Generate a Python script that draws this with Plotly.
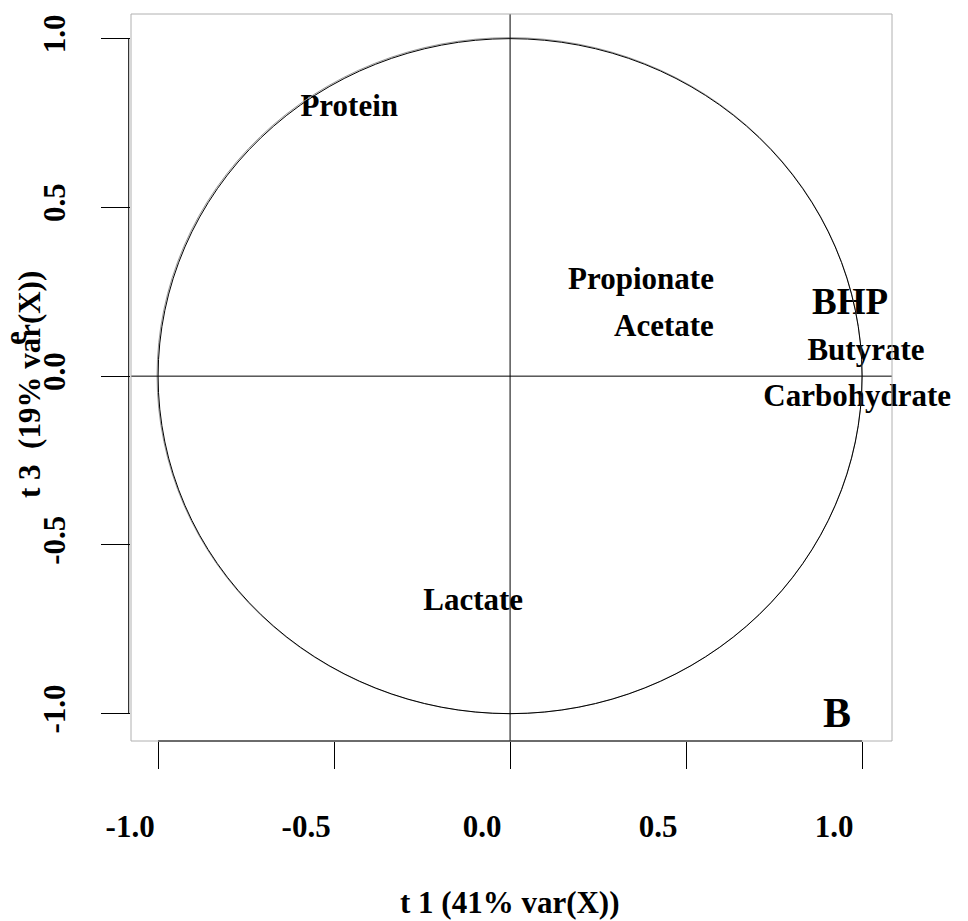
import plotly.graph_objects as go

# ---- data ----
variables = ["Protein", "Propionate", "Acetate", "BHP", "Butyrate", "Carbohydrate", "Lactate"]
t1_loadings = [-0.457, 0.372, 0.437, 0.966, 1.011, 0.986, -0.105]
t3_loadings = [0.794, 0.281, 0.142, 0.213, 0.071, -0.065, -0.67]
label_sizes = [31, 31, 31, 37, 31, 31, 31]

tick_vals = [-1.0, -0.5, 0.0, 0.5, 1.0]
tick_text = ["-1.0", "-0.5", "0.0", "0.5", "1.0"]

x_title = "t 1 (41% var(X))"
y_title = "t 3  (19% var(X))"
panel_letter = "B"

W, H = 968, 921
L, R, T, B = 131, 76, 14, 180
pw, ph = W - L - R, H - T - B

def px_x(p):
    return (p - L) / pw

def px_y(p):
    return (H - B - p) / ph

FONT = "Liberation Serif"

fig = go.Figure()

fig.add_trace(go.Scatter(
    x=t1_loadings, y=t3_loadings, text=variables, mode="text",
    textposition="middle center", cliponaxis=False,
    textfont=dict(family=FONT, size=label_sizes, color="black", weight="bold"),
    hoverinfo="skip", showlegend=False,
))

shapes = []
# correlation circles (black + slightly offset grey)
shapes.append(dict(type="circle", xref="x", yref="y", x0=-1.003, x1=1.0, y0=-1.0, y1=1.003,
                   line=dict(color="#999999", width=1)))
shapes.append(dict(type="circle", xref="x", yref="y", x0=-1, x1=1, y0=-1, y1=1,
                   line=dict(color="black", width=1)))
# reference lines
shapes.append(dict(type="line", xref="x", yref="paper", x0=0, x1=0, y0=0, y1=1,
                   line=dict(color="black", width=1)))
shapes.append(dict(type="line", xref="paper", yref="y", x0=0, x1=1, y0=0, y1=0,
                   line=dict(color="black", width=1)))
# box
shapes.append(dict(type="rect", xref="paper", yref="paper", x0=0, x1=1, y0=0, y1=1,
                   line=dict(color="#b0b0b0", width=1)))
# R-style axis lines
shapes.append(dict(type="line", xref="x", yref="paper", x0=-1, x1=1, y0=0, y1=0,
                   line=dict(color="black", width=1)))
shapes.append(dict(type="line", xref="paper", yref="y", x0=-0.003, x1=-0.003, y0=-1, y1=1,
                   line=dict(color="black", width=1)))

annotations = [
    dict(text=x_title, xref="x", yref="paper", x=0, y=px_y(902), showarrow=False,
         xanchor="center", yanchor="middle",
         font=dict(family=FONT, size=31, color="black", weight="bold")),
    dict(text=y_title, xref="paper", yref="paper", x=px_x(30), y=px_y(385), showarrow=False,
         xanchor="center", yanchor="middle", textangle=-90,
         font=dict(family=FONT, size=31, color="black", weight="bold")),
    dict(text="e", xref="paper", yref="paper", x=px_x(15), y=px_y(338), showarrow=False,
         xanchor="center", yanchor="middle", textangle=-90,
         font=dict(family=FONT, size=31, color="black", weight="bold")),
    dict(text=panel_letter, xref="x", yref="y", x=0.929, y=-0.999, showarrow=False,
         xanchor="center", yanchor="middle",
         font=dict(family=FONT, size=42, color="black", weight="bold")),
]

fig.update_layout(
    width=W, height=H, autosize=False,
    margin=dict(l=L, r=R, t=T, b=B, pad=0),
    paper_bgcolor="white", plot_bgcolor="white",
    shapes=shapes, annotations=annotations,
    xaxis=dict(range=[-1.077, 1.085], showgrid=False, zeroline=False, showline=False,
               ticks="outside", ticklen=27, tickwidth=1, tickcolor="black",
               tickvals=tick_vals, ticktext=tick_text,
               ticklabelstandoff=31, ticklabelshift=-28,
               tickfont=dict(family=FONT, size=31, color="black", weight="bold")),
    yaxis=dict(range=[-1.081, 1.073], showgrid=False, zeroline=False, showline=False,
               ticks="outside", ticklen=29, tickwidth=1, tickcolor="black",
               tickvals=tick_vals, ticktext=tick_text, tickangle=-90,
               ticklabelstandoff=24,
               tickfont=dict(family=FONT, size=31, color="black", weight="bold")),
)

fig.write_html("out.html")
